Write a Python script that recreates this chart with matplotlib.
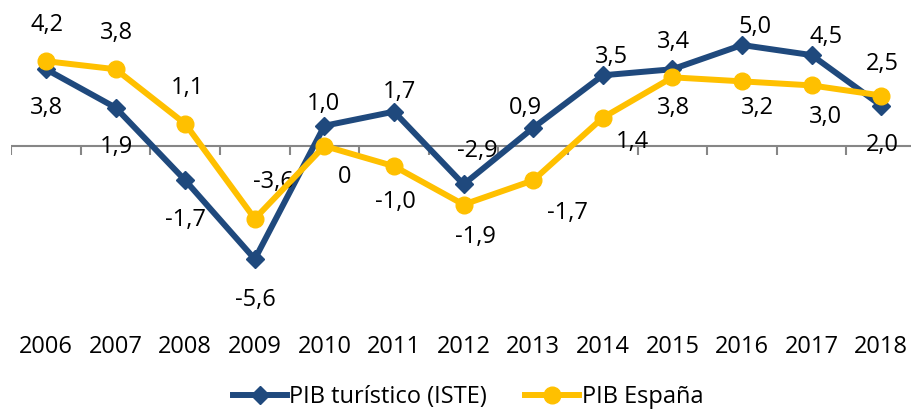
import matplotlib.pyplot as plt

# Data
years = [2006, 2007, 2008, 2009, 2010, 2011, 2012, 2013, 2014, 2015, 2016, 2017, 2018]
pib_turistico = [3.8, 1.9, -1.7, -5.6, 1.0, 1.7, -1.9, 0.9, 3.5, 3.8, 5.0, 4.5, 2.0]
pib_espana = [4.2, 3.8, 1.1, -3.6, 0.0, -1.0, -2.9, -1.7, 1.4, 3.4, 3.2, 3.0, 2.5]

# Data label texts as printed next to each series' markers
labels_turistico = ["3,8", "1,9", "-1,7", "-5,6", "1,0", "1,7", "-2,9",
                    "0,9", "3,5", "3,4", "5,0", "4,5", "2,0"]
labels_espana = ["4,2", "3,8", "1,1", "-3,6", "0", "-1,0", "-1,9",
                 "-1,7", "1,4", "3,8", "3,2", "3,0", "2,5"]

# Label offsets from the marker, in pixels (x right, y up)
off_turistico = [(1, -39), (1, -39), (0, -40), (1, -41), (-1, 22), (6, 20), (14, 33),
                 (-8, 20), (9, 18), (1, 27), (13, 18), (14, 18), (1, -39)]
off_espana = [(1, 36), (1, 36), (2, 36), (19, 37), (20, -31), (1, -36), (12, -32),
              (34, -33), (30, -24), (1, -31), (15, -27), (14, -32), (1, 32)]

BLUE = "#1F497D"
YELLOW = "#FFC000"
FONT = "Open Sans"
FS = 17

plt.rcParams['font.family'] = [FONT, 'DejaVu Sans']

fig = plt.figure(figsize=(9.11, 4.12), dpi=100)
ax = fig.add_axes([0.01229, 0.3024, 0.9932, 0.6374])
ax.set_xlim(2005.5, 2018.5)
ax.set_ylim(-7, 6)
for s in ax.spines.values():
    s.set_visible(False)
ax.set_yticks([])
ax.set_xticks([])

# zero axis line with category boundary ticks
ax.axhline(0, color="#868686", lw=1.5, zorder=1)
for b in range(len(years) + 1):
    xb = years[0] - 0.5 + b
    ax.plot([xb, xb], [0, -0.45], color="#868686", lw=1.5, zorder=1,
            solid_capstyle="butt")

ax.plot(years, pib_turistico, color=BLUE, lw=4.3, marker="D", ms=9,
        mec=BLUE, mew=1, label="PIB turístico (ISTE)", zorder=3)
ax.plot(years, pib_espana, color=YELLOW, lw=4.3, marker="o", ms=12,
        mec=YELLOW, mew=1, label="PIB España", zorder=4)

for x, y, t, (dx, dy) in zip(years, pib_turistico, labels_turistico, off_turistico):
    ax.annotate(t, (x, y), xytext=(dx, dy), textcoords="offset pixels",
                ha="center", va="center", fontsize=FS, color="#000000")
for x, y, t, (dx, dy) in zip(years, pib_espana, labels_espana, off_espana):
    ax.annotate(t, (x, y), xytext=(dx, dy), textcoords="offset pixels",
                ha="center", va="center", fontsize=FS, color="#000000")

# year labels under the plot
for x in years:
    ax.text(x, -0.227, str(x), transform=ax.get_xaxis_transform(),
            ha="center", va="center", fontsize=FS)

fig.legend(loc="center", bbox_to_anchor=(468 / 911, 1 - 397 / 412), ncol=2,
           frameon=False, fontsize=FS, handlelength=2.3, handletextpad=0.1,
           columnspacing=1.6, borderaxespad=0)

fig.savefig("out.png", dpi=100)
